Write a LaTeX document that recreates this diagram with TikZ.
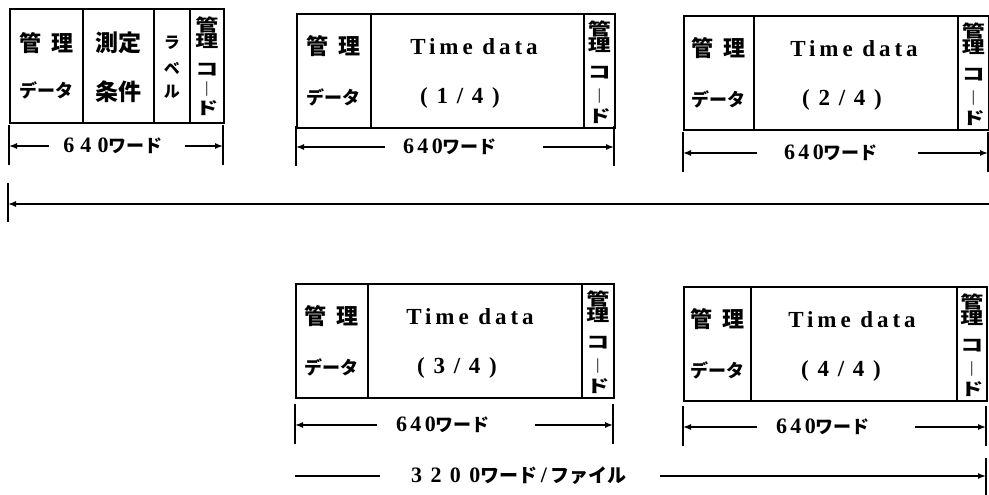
\documentclass[tikz,border=0pt]{standalone}
\usepackage{fontspec}
\setmainfont{Liberation Serif}
\newfontfamily\jp{Noto Sans CJK JP}
\newfontfamily\tdf[LetterSpace=17]{Liberation Serif}
\newfontfamily\numf[LetterSpace=15]{Liberation Serif}
\newfontfamily\bignumf[LetterSpace=38]{Liberation Serif}
\usetikzlibrary{arrows.meta}
\newcommand\jpf[1]{\jp\bfseries\fontsize{#1pt}{#1pt}\selectfont}
\newcommand\serf[1]{\bfseries\fontsize{#1pt}{#1pt}\selectfont}
\newcommand\wordlbl{{\numf\serf{22}640}{\jpf{18}ワード}}
\newcommand\wide[1]{\scalebox{1.35}[1]{#1}}
\tikzset{
  cell/.style={draw, line width=1.6pt, anchor=north west, inner sep=0pt, minimum height=114pt},
  txt/.style={inner sep=0pt, anchor=center},
  dimln/.style={line width=1.4pt, -{Latex[length=8pt,width=6pt]}},
  plainln/.style={line width=1.4pt},
  tickln/.style={line width=1.4pt},
}
% record with Time data: #1 name, #2 L, #3 T, #4 d1, #5 d2, #6 R, #7 fraction, #8 Time-data x, #9 fraction x
\newcommand\rec[9]{%
  \pgfmathsetmacro\wa{#4-#2}\pgfmathsetmacro\wb{#5-#4}\pgfmathsetmacro\wc{#6-#5}%
  \node[cell, minimum width=\wa pt] (#1-a) at (#2,#3) {};
  \node[cell, minimum width=\wb pt] (#1-b) at (#4,#3) {};
  \node[cell, minimum width=\wc pt] (#1-c) at (#5,#3) {};
  \node[txt, font=\jpf{22}] (#1-k1) at ([yshift=-33pt]#1-a.north) {管\hspace{10pt}理};
  \node[txt, font=\jpf{18}] (#1-k2) at ([yshift=-84pt]#1-a.north) {データ};
  \node[txt, font=\tdf\serf{23}] (#1-td) at ([yshift=-34pt]#1-b.north -| #8,0) {Time data};
  \node[txt, font=\bignumf\serf{23}] (#1-fr) at ([yshift=-85pt]#1-b.north -| #9,0) {(#7)};
  \vcol{#1}{#1-c}
}
% vertical 管理コード column
\newcommand\vcol[2]{%
  \node[txt, font=\jpf{17}] (#1-v1) at ([yshift=-16pt]#2.north) {\wide{管}};
  \node[txt, font=\jpf{17}] (#1-v2) at ([yshift=-32pt]#2.north) {\wide{理}};
  \node[txt, font=\jpf{17}] (#1-v3) at ([yshift=-60pt]#2.north) {\wide{コ}};
  \node[txt, font=\jpf{17}] (#1-v4) at ([yshift=-83pt]#2.north) {︱};
  \node[txt, font=\jpf{17}] (#1-v5) at ([yshift=-103pt]#2.north) {\wide{ド}};
}
% dimension row: #1 name, #2 L, #3 R, #4 y, #5 left seg end, #6 right seg start, #7 text centre
\newcommand\dimrow[7]{%
  \coordinate (#1-lt) at (#2,#4); \coordinate (#1-rt) at (#3,#4);
  \coordinate (#1-ls) at (#5,#4); \coordinate (#1-rs) at (#6,#4);
  \node[txt] (#1-t) at (#7,#4) {\wordlbl};
  \draw[dimln] (#1-ls) -- (#1-lt);
  \draw[dimln] (#1-rs) -- (#1-rt);
  \draw[tickln] ([yshift=21pt]#1-lt) -- ([yshift=-19pt]#1-lt);
  \draw[tickln] ([yshift=21pt]#1-rt) -- ([yshift=-19pt]#1-rt);
}
\begin{document}
\begin{tikzpicture}[x=1pt, y=-1pt]
\useasboundingbox (0,0) rectangle (989,495);
% ---- record 1 (header block)
\node[cell, minimum width=73pt] (r0-a) at (9,8) {};
\node[cell, minimum width=71pt] (r0-b) at (82,8) {};
\node[cell, minimum width=36pt] (r0-c) at (153,8) {};
\node[cell, minimum width=34pt] (r0-d) at (189,8) {};
\node[txt, font=\jpf{22}] (r0-k1) at ([yshift=-35pt]r0-a.north) {管\hspace{10pt}理};
\node[txt, font=\jpf{18}] (r0-k2) at ([yshift=-82pt]r0-a.north) {データ};
\node[txt, font=\jpf{23}] (r0-m1) at ([yshift=-35pt]r0-b.north) {測定};
\node[txt, font=\jpf{23}] (r0-m2) at ([yshift=-84pt]r0-b.north) {条件};
\node[txt, font=\jpf{16}] (r0-l1) at ([yshift=-35pt]r0-c.north) {ラ};
\node[txt, font=\jpf{16}] (r0-l2) at ([yshift=-60pt]r0-c.north) {ベ};
\node[txt, font=\jpf{16}] (r0-l3) at ([yshift=-84pt]r0-c.north) {ル};
\node[txt, font=\jpf{17}] (r0-v1) at ([yshift=-17pt]r0-d.north) {\wide{管}};
\node[txt, font=\jpf{17}] (r0-v2) at ([yshift=-33pt]r0-d.north) {\wide{理}};
\node[txt, font=\jpf{17}] (r0-v3) at ([yshift=-62pt]r0-d.north) {\wide{コ}};
\node[txt, font=\jpf{17}] (r0-v4) at ([yshift=-81pt]r0-d.north) {︱};
\node[txt, font=\jpf{17}] (r0-v5) at ([yshift=-100pt]r0-d.north) {\wide{ド}};
\coordinate (d0-lt) at (9,146); \coordinate (d0-rt) at (223,146);
\coordinate (d0-ls) at (49,146); \coordinate (d0-rs) at (185,146);
\node[txt] (d0-t) at (113,146) {{\fontspec[LetterSpace=28]{Liberation Serif}\serf{22}640}{\jpf{18}ワード}};
\draw[dimln] (d0-ls) -- (d0-lt);
\draw[dimln] (d0-rs) -- (d0-rt);
\draw[tickln] ([yshift=21pt]d0-lt) -- ([yshift=-19pt]d0-lt);
\draw[tickln] ([yshift=21pt]d0-rt) -- ([yshift=-19pt]d0-rt);
% ---- data records
\rec{r1}{296}{13}{370}{583}{614}{1/4}{474}{460}
\dimrow{d1}{296}{614}{147}{385}{543}{450}
\rec{r2}{683}{15}{753}{957}{988}{2/4}{854}{842}
\dimrow{d2}{683}{988}{153}{757}{918}{831}
\rec{r3}{295}{283}{367}{581}{613}{3/4}{470}{457}
\dimrow{d3}{295}{613}{425}{377}{535}{443}
\rec{r4}{683}{286}{750}{956}{986}{4/4}{852}{841}
\dimrow{d4}{683}{986}{427}{757}{915}{823}
% ---- long line (continues from first row)
\coordinate (tl) at (8,204);
\coordinate (tr) at (989,204);
\draw[dimln] (tr) -- (tl);
\draw[tickln] ([yshift=21pt]tl) -- ([yshift=-18pt]tl);
% ---- total
\coordinate (bl) at (295,476);
\coordinate (bls) at (380,476);
\node[txt] (bt) at (519,476) {{\bignumf\serf{22}3200}{\jpf{19}ワード}{\serf{22}\,/\,}{\jpf{19}ファイル}};
\coordinate (brs) at (660,476);
\coordinate (br) at (986,476);
\draw[plainln] (bl) -- (bls);
\draw[dimln] (brs) -- (br);
\draw[tickln] ([yshift=18pt]br) -- ([yshift=-19pt]br);
\end{tikzpicture}
\end{document}
